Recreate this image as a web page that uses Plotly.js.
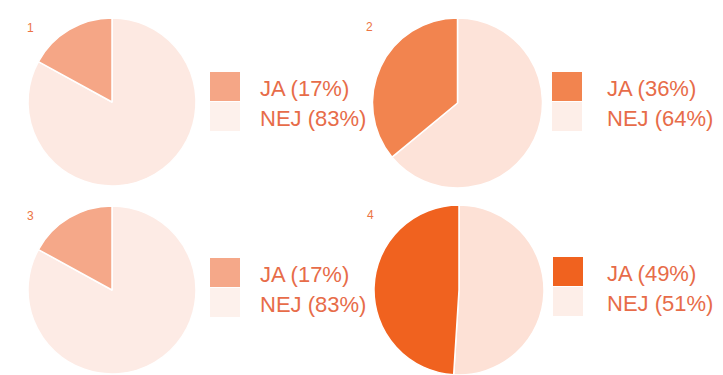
<!DOCTYPE html>
<html>
<head>
<meta charset="utf-8">
<script src="https://cdn.plot.ly/plotly-3.0.1.min.js"></script>
<style>
  html, body { margin: 0; padding: 0; background: #ffffff; }
  #chart { width: 723px; height: 375px; }
</style>
</head>
<body>
<div id="chart"></div>
<script>
// ---- data ----
const panelNumbers = ['1', '2', '3', '4'];
const categories = ['JA', 'NEJ'];
const jaValues = [17, 36, 17, 49];
const nejValues = [83, 64, 83, 51];

// ---- styling / layout (pixels) ----
const W = 723, H = 375;
const jaColors = ['#f5a686', '#f2844f', '#f5a889', '#f0621f'];
const nejColors = ['#fde9e2', '#fde3d9', '#fdebe5', '#fde1d6'];
const nejSwatch = ['#fdf1ec', '#fdeee8', '#fdf1ec', '#fdeee8'];
const textColor = '#e76c49';
// pie centers and radius in px
const centers = [[112, 102], [457.5, 103], [112, 290], [459, 290]];
const radii = [84, 85, 84, 85];
// legend anchors in px: swatch left, swatch top, text left
const legendPos = [[210, 72, 258], [552, 72, 605], [210, 258, 258], [553, 257, 605]];
const numberPos = [[30, 28], [370, 27], [30, 216], [371, 215]];

const px = v => v / W;
const py = v => 1 - v / H;

// NEJ listed first, drawn clockwise from 12 o'clock, so JA ends at 12 o'clock on the left side
const traces = panelNumbers.map((n, i) => {
  const [cx, cy] = centers[i];
  const r = radii[i];
  return {
    type: 'pie',
    labels: [categories[1], categories[0]],
    values: [nejValues[i], jaValues[i]],
    sort: false,
    direction: 'clockwise',
    rotation: 0,
    textinfo: 'none',
    hoverinfo: 'none',
    showlegend: false,
    marker: { colors: [nejColors[i], jaColors[i]], line: { color: '#ffffff', width: 1.5 } },
    domain: { x: [px(cx - r), px(cx + r)], y: [py(cy + r), py(cy - r)] }
  };
});

const shapes = [];
const annotations = [];
panelNumbers.forEach((n, i) => {
  const [sx, sy, tx] = legendPos[i];
  const vals = [jaValues[i], nejValues[i]];
  const swCols = [jaColors[i], nejSwatch[i]];
  categories.forEach((c, k) => {
    const top = sy + k * 30;
    shapes.push({
      type: 'rect', xref: 'paper', yref: 'paper', layer: 'below',
      x0: px(sx), x1: px(sx + 30), y0: py(top + 29), y1: py(top),
      fillcolor: swCols[k], line: { width: 0 }
    });
    annotations.push({
      xref: 'paper', yref: 'paper', x: px(tx), y: py(top + 16),
      xanchor: 'left', yanchor: 'middle', showarrow: false,
      text: c + ' (' + vals[k] + '%)',
      font: { family: 'Liberation Sans, Arial, sans-serif', size: 22, color: textColor }
    });
  });
  annotations.push({
    xref: 'paper', yref: 'paper', x: px(numberPos[i][0]), y: py(numberPos[i][1]),
    xanchor: 'center', yanchor: 'middle', showarrow: false,
    text: n,
    font: { family: 'Liberation Sans, Arial, sans-serif', size: 12, color: '#ec7443' }
  });
});

const layout = {
  width: W, height: H,
  margin: { l: 0, r: 0, t: 0, b: 0 },
  paper_bgcolor: '#ffffff',
  plot_bgcolor: '#ffffff',
  showlegend: false,
  shapes: shapes,
  annotations: annotations
};

Plotly.newPlot('chart', traces, layout, { displayModeBar: false, staticPlot: true });
</script>
</body>
</html>
